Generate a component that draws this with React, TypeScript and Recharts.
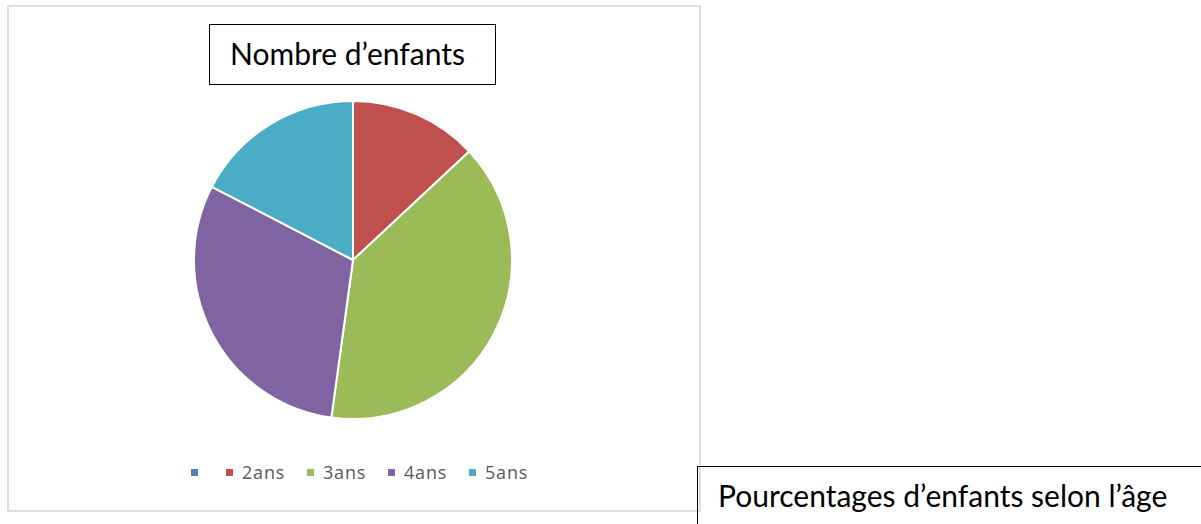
import { PieChart, Pie, Cell, Legend } from "recharts";

// categories (first one has no label in the original, value 0)
const ages = ["", "2ans", "3ans", "4ans", "5ans"];
const enfants = [0, 3, 9, 7, 4];
const colors = ["#4F81BD", "#C0504D", "#9BBB59", "#8064A2", "#4BACC6"];

const data = ages.map((a, i) => ({ name: a, value: enfants[i] }));

const FONT = "Lato, 'Open Sans', sans-serif";

const LegendContent = () => (
  <div
    style={{
      display: "flex",
      alignItems: "center",
      height: 20,
      fontFamily: "'Open Sans', sans-serif",
      fontSize: 18,
      letterSpacing: 0.8,
      color: "#595959",
    }}
  >
    {ages.map((a, i) => (
      <div
        key={i}
        style={{ display: "flex", alignItems: "center", width: a ? 81 : 35, flex: "none" }}
      >
        <span
          style={{
            display: "inline-block",
            width: 7,
            height: 7,
            background: colors[i],
            marginRight: 9,
          }}
        />
        {a}
      </div>
    ))}
  </div>
);

export default function App() {
  return (
    <div
      style={{
        position: "absolute",
        left: 0,
        top: 0,
        width: 1201,
        height: 524,
        background: "#fff",
        overflow: "hidden",
      }}
    >
      {/* chart frame */}
      <div
        style={{
          position: "absolute",
          left: 7,
          top: 5,
          width: 690,
          height: 503,
          border: "2px solid #dedede",
        }}
      />
      <PieChart width={1201} height={524} style={{ position: "absolute", left: 0, top: 0 }}>
        <Pie
          data={data}
          dataKey="value"
          nameKey="name"
          cx={348}
          cy={255}
          outerRadius={159}
          startAngle={90}
          endAngle={-270}
          stroke="#fff"
          strokeWidth={2}
          isAnimationActive={false}
        >
          {data.map((d, i) => (
            <Cell key={i} fill={colors[i]} />
          ))}
        </Pie>
        <Legend
          content={<LegendContent />}
          wrapperStyle={{ position: "absolute", left: 191, top: 462, width: 420 }}
        />
      </PieChart>
      {/* title box */}
      <div
        style={{
          position: "absolute",
          left: 209,
          top: 24,
          width: 287,
          height: 61,
          border: "1.5px solid #000",
          boxSizing: "border-box",
          fontFamily: FONT,
          fontSize: 30,
          color: "#000",
          lineHeight: "56px",
          paddingLeft: 20,
          whiteSpace: "nowrap",
        }}
      >
        Nombre d’enfants
      </div>
      {/* caption box */}
      <div
        style={{
          position: "absolute",
          left: 697,
          top: 466,
          width: 520,
          height: 80,
          border: "1.5px solid #000",
          fontFamily: FONT,
          fontSize: 30,
          color: "#000",
          paddingLeft: 20,
          paddingTop: 10,
          lineHeight: "36px",
          whiteSpace: "nowrap",
        }}
      >
        Pourcentages d’enfants selon l’âge
      </div>
    </div>
  );
}
